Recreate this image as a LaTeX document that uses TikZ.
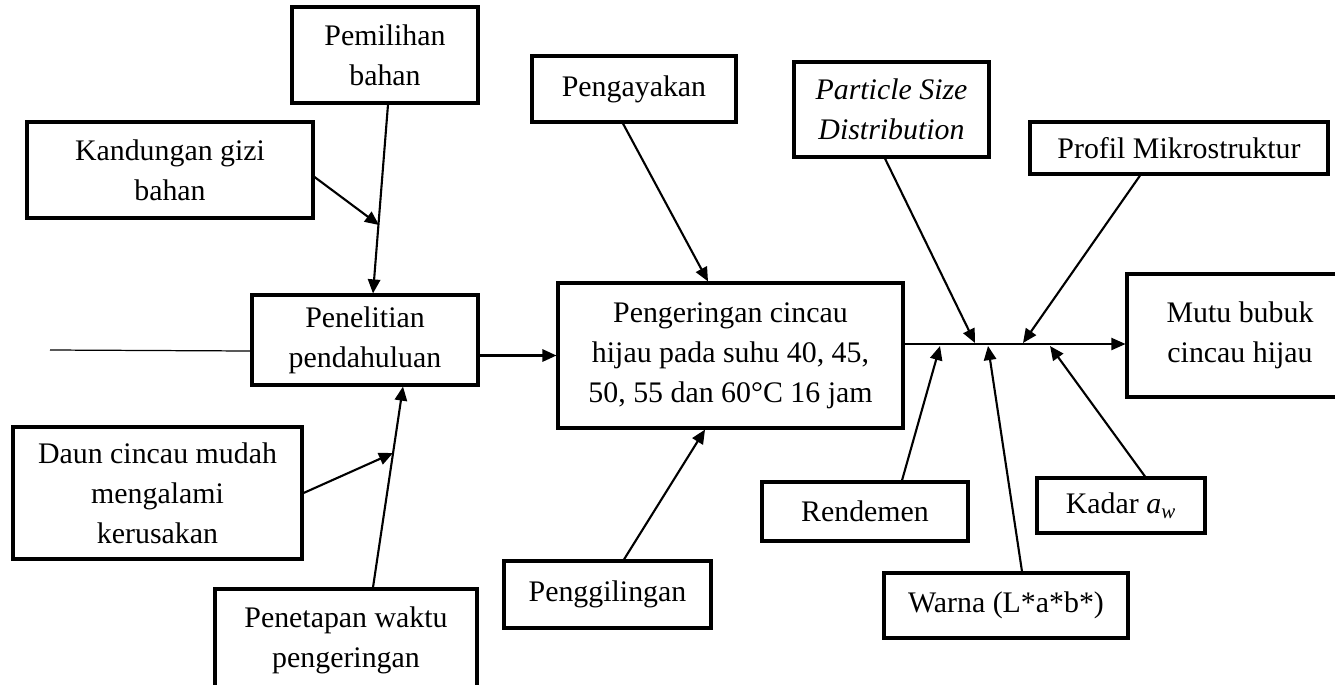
\documentclass[tikz,border=0pt]{standalone}
\usepackage{fontspec}
\setmainfont{Liberation Serif}
\usetikzlibrary{arrows.meta}

\begin{document}
\begin{tikzpicture}[x=0.02cm, y=-0.02cm,
    every node/.style={font=\fontsize{17}{22.7}\selectfont},
    box/.style={draw, line width=1.8pt, align=center, inner sep=0pt},
    link/.style={line width=1.2pt, -{Triangle[length=8pt, width=7pt]}},
    plain/.style={line width=0.7pt}]
  \path[use as bounding box, clip] (0,0) rectangle (1335,684);

  % left side: preliminary study
  \node[box, minimum width=3.72cm, minimum height=1.92cm] (pemilihan) at (385,55) {Pemilihan\\bahan};
  \node[box, minimum width=5.72cm, minimum height=1.92cm] (kandungan) at (170,170) {Kandungan gizi\\bahan};
  \node[box, minimum width=4.52cm, minimum height=1.80cm] (penelitian) at (365,340) {Penelitian\\pendahuluan};
  \node[box, minimum width=5.78cm, minimum height=2.64cm] (daun) at (157.5,493) {Daun cincau mudah\\mengalami\\kerusakan};
  \node[box, minimum width=5.24cm, minimum height=2.04cm] (penetapan) at (346,640) {Penetapan waktu\\pengeringan};

  % middle: drying
  \node[box, minimum width=6.90cm, minimum height=2.90cm] (pengeringan) at (730.5,355.5) {Pengeringan cincau\\hijau pada suhu 40, 45,\\50, 55 dan 60°C 16 jam};
  \node[box, minimum width=4.08cm, minimum height=1.32cm] (pengayakan) at (634,89) {Pengayakan};
  \node[box, minimum width=4.14cm, minimum height=1.34cm] (penggilingan) at (607.5,594.5) {Penggilingan};

  % right side: quality parameters
  \node[box, minimum width=3.90cm, minimum height=1.90cm] (particle) at (891.5,109.5) {\textit{Particle Size}\\\textit{Distribution}};
  \node[box, minimum width=5.96cm, minimum height=1.04cm] (profil) at (1179,148) {Profil Mikrostruktur};
  \node[box, minimum width=4.52cm, minimum height=2.46cm] (mutu) at (1240,335.5) {Mutu bubuk\\cincau hijau};
  \node[box, minimum width=4.12cm, minimum height=1.18cm] (rendemen) at (865,511.5) {Rendemen};
  \node[box, minimum width=4.88cm, minimum height=1.30cm] (warna) at (1006,605.5) {Warna (L*a*b*)};
  \node[box, minimum width=3.36cm, minimum height=1.10cm] (kadar) at (1121,505.5) {Kadar \textit{a}\textsubscript{\textit{w}}};

  % points where arrows meet a line
  \coordinate (start) at (50,350);
  \coordinate (k1) at (379,225);
  \coordinate (d1) at (393,453);
  \coordinate (p1) at (975,343);
  \coordinate (p2) at (1023,343);
  \coordinate (r1) at (940,346);
  \coordinate (w1) at (988,346);
  \coordinate (a1) at (1050,346);

  \draw[plain] (start) -- ([yshift=-0.22cm]penelitian.west);
  \draw[link] ([xshift=0.06cm]pemilihan.south) -- ([xshift=0.16cm]penelitian.north);
  \draw[link] ([yshift=-0.14cm]kandungan.east) -- (k1);
  \draw[link] ([xshift=0.54cm]penetapan.north) -- ([xshift=0.76cm]penelitian.south);
  \draw[link] (daun.east) -- (d1);
  \draw[link] (penelitian.east |- pengeringan.west) -- (pengeringan.west);

  \draw[link] ([xshift=-0.22cm]pengayakan.south) -- ([xshift=-0.45cm]pengeringan.north);
  \draw[link] ([xshift=0.33cm]penggilingan.north) -- ([xshift=-0.51cm]pengeringan.south);

  \draw[plain, -{Triangle[length=8pt, width=7pt]}] ([yshift=0.23cm]pengeringan.east) coordinate (hub) -- (hub -| mutu.west);
  \draw[link] ([xshift=-0.13cm]particle.south) -- (p1);
  \draw[link] ([xshift=-0.78cm]profil.south) -- (p2);
  \draw[link] ([xshift=0.74cm]rendemen.north) -- (r1);
  \draw[link] ([xshift=0.32cm]warna.north) -- (w1);
  \draw[link] ([xshift=0.48cm]kadar.north) -- (a1);
\end{tikzpicture}
\end{document}
